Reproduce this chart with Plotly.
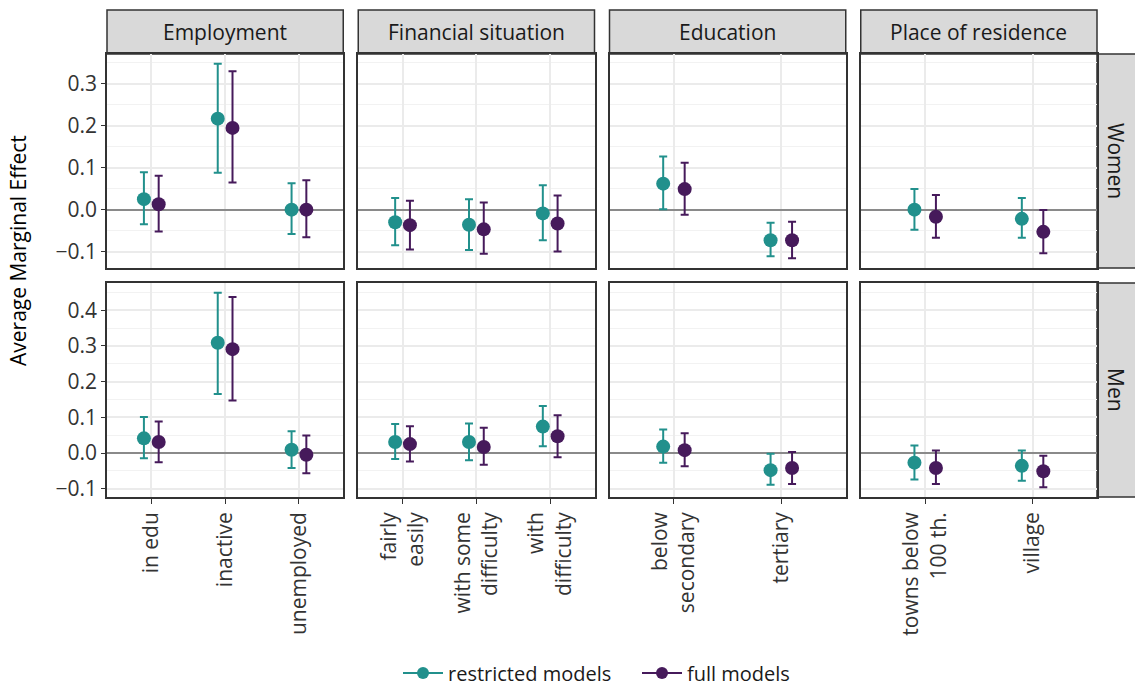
import plotly.graph_objects as go
from plotly.subplots import make_subplots

# Facet columns and the categories within each one
groups = ["Employment", "Financial situation", "Education", "Place of residence"]
categories = [
    ["in edu", "inactive", "unemployed"],
    ["fairly<br>easily", "with some<br>difficulty", "with<br>difficulty"],
    ["below<br>secondary", "tertiary"],
    ["towns below<br>100 th.", "village"],
]
sexes = ["Women", "Men"]
models = ["restricted models", "full models"]

# Average marginal effects with confidence bounds, categories flattened in column order
women_restricted_est = [0.025, 0.217, 0.000, -0.030, -0.036, -0.009, 0.062, -0.073, 0.000, -0.022]
women_restricted_lo = [-0.035, 0.088, -0.058, -0.085, -0.096, -0.073, 0.001, -0.111, -0.048, -0.067]
women_restricted_hi = [0.089, 0.348, 0.063, 0.028, 0.025, 0.058, 0.127, -0.031, 0.049, 0.028]

women_full_est = [0.013, 0.195, 0.000, -0.037, -0.047, -0.033, 0.049, -0.073, -0.017, -0.053]
women_full_lo = [-0.052, 0.065, -0.066, -0.095, -0.105, -0.100, -0.012, -0.116, -0.067, -0.104]
women_full_hi = [0.081, 0.330, 0.070, 0.021, 0.017, 0.034, 0.112, -0.029, 0.035, -0.001]

men_restricted_est = [0.041, 0.309, 0.009, 0.031, 0.031, 0.074, 0.018, -0.048, -0.027, -0.036]
men_restricted_lo = [-0.015, 0.165, -0.042, -0.017, -0.020, 0.019, -0.027, -0.089, -0.074, -0.078]
men_restricted_hi = [0.101, 0.449, 0.061, 0.081, 0.083, 0.132, 0.066, -0.002, 0.021, 0.007]

men_full_est = [0.031, 0.291, -0.005, 0.025, 0.017, 0.047, 0.008, -0.042, -0.042, -0.051]
men_full_lo = [-0.026, 0.147, -0.057, -0.024, -0.033, -0.012, -0.037, -0.087, -0.087, -0.096]
men_full_hi = [0.088, 0.437, 0.049, 0.075, 0.071, 0.106, 0.055, 0.003, 0.007, -0.008]

series = {
    ("Women", "restricted models"): (women_restricted_est, women_restricted_lo, women_restricted_hi),
    ("Women", "full models"): (women_full_est, women_full_lo, women_full_hi),
    ("Men", "restricted models"): (men_restricted_est, men_restricted_lo, men_restricted_hi),
    ("Men", "full models"): (men_full_est, men_full_lo, men_full_hi),
}

colors = {"restricted models": "#21908C", "full models": "#461A5B"}
dodge = {"restricted models": -0.1, "full models": 0.1}

FONT = "Open Sans"
TEXT = "#333333"
TICK_SIZE = 21
STRIP_SIZE = 21
W, H = 1135, 687
ML, MR, MT, MB = 107, 38, 54, 190
PW = W - ML - MR
PH = H - MT - MB
GAP = 15

fig = make_subplots(
    rows=2, cols=4, shared_xaxes=True, shared_yaxes=True,
    horizontal_spacing=GAP / PW, vertical_spacing=GAP / PH,
)

for r, sex in enumerate(sexes, start=1):
    for model in models:
        est, lo, hi = series[(sex, model)]
        start = 0
        for c, cats in enumerate(categories, start=1):
            n = len(cats)
            e = est[start:start + n]
            l = lo[start:start + n]
            h = hi[start:start + n]
            start += n
            fig.add_trace(
                go.Scatter(
                    x=[i + 1 + dodge[model] for i in range(n)],
                    y=e,
                    mode="markers",
                    marker=dict(size=14, color=colors[model]),
                    error_y=dict(
                        type="data", symmetric=False,
                        array=[hv - ev for hv, ev in zip(h, e)],
                        arrayminus=[ev - lv for ev, lv in zip(e, l)],
                        color=colors[model], thickness=2, width=4,
                    ),
                    showlegend=False, hoverinfo="skip",
                ),
                row=r, col=c,
            )

# Legend entries
for model in models:
    fig.add_trace(go.Scatter(
        x=[None], y=[None], mode="lines+markers", name=model,
        line=dict(color=colors[model], width=2),
        marker=dict(size=12, color=colors[model]),
    ), row=1, col=1)

# Axes: free y per row (5% padding), discrete x per column
for r, sex in enumerate(sexes, start=1):
    vals = []
    for model in models:
        est, lo, hi = series[(sex, model)]
        vals += lo + hi
    lo_v, hi_v = min(vals), max(vals)
    pad = (hi_v - lo_v) * 0.05
    for c in range(1, 5):
        fig.update_yaxes(
            range=[lo_v - pad, hi_v + pad], dtick=0.1, tick0=0, tickformat=".1f",
            showgrid=True, gridcolor="#EBEBEB", gridwidth=2,
            minor=dict(dtick=0.05, tick0=0, showgrid=True, gridcolor="#F2F2F2", gridwidth=1),
            zeroline=True, zerolinecolor="#8A8A8A", zerolinewidth=2,
            showline=True, mirror=True, linecolor="#333333", linewidth=1.5,
            ticks="outside" if c == 1 else "", ticklen=4, tickcolor="#333333",
            tickfont=dict(family=FONT, size=TICK_SIZE, color=TEXT),
            automargin=False,
            row=r, col=c,
        )

for c, cats in enumerate(categories, start=1):
    n = len(cats)
    for r in (1, 2):
        fig.update_xaxes(
            range=[0.4, n + 0.6], tickvals=list(range(1, n + 1)), ticktext=cats,
            tickangle=-90, showgrid=True, gridcolor="#EBEBEB", gridwidth=2,
            zeroline=False, showline=True, mirror=True, linecolor="#333333", linewidth=1.5,
            ticks="outside" if r == 2 else "", ticklen=5, tickcolor="#333333",
            tickfont=dict(family=FONT, size=TICK_SIZE, color=TEXT),
            automargin=False,
            row=r, col=c,
        )

# Facet strips
shapes = []
annotations = []
col_w = (PW - 3 * GAP) / 4
row_h = (PH - GAP) / 2
strip_top = 1 + 44 / PH
for c, g in enumerate(groups):
    x0 = c * (col_w + GAP) / PW
    x1 = x0 + col_w / PW
    shapes.append(dict(type="rect", xref="paper", yref="paper", x0=x0, x1=x1, y0=1, y1=strip_top,
                       fillcolor="#D9D9D9", line=dict(color="#333333", width=1.5), layer="below"))
    annotations.append(dict(xref="paper", yref="paper", x=(x0 + x1) / 2, y=(1 + strip_top) / 2,
                            text=g, showarrow=False, font=dict(family=FONT, size=STRIP_SIZE, color="#1A1A1A"),
                            xanchor="center", yanchor="middle"))
strip_right = 1 + MR / PW
for r, sex in enumerate(sexes):
    y1 = 1 - r * (row_h + GAP) / PH
    y0 = y1 - row_h / PH
    shapes.append(dict(type="rect", xref="paper", yref="paper", x0=1, x1=strip_right + 0.01, y0=y0, y1=y1,
                       fillcolor="#D9D9D9", line=dict(color="#333333", width=1.5), layer="below"))
    annotations.append(dict(xref="paper", yref="paper", x=(1 + strip_right) / 2, y=(y0 + y1) / 2,
                            text=sex, textangle=90, showarrow=False,
                            font=dict(family=FONT, size=STRIP_SIZE, color="#1A1A1A"),
                            xanchor="center", yanchor="middle"))

annotations.append(dict(xref="paper", yref="paper", x=(18 - ML) / PW, y=(MT + PH - 251) / PH,
                        text="Average Marginal Effect", textangle=-90, showarrow=False,
                        font=dict(family=FONT, size=STRIP_SIZE, color="#000000"),
                        xanchor="center", yanchor="middle"))

fig.update_layout(
    width=W, height=H,
    margin=dict(l=ML, r=MR, t=MT, b=MB, autoexpand=False),
    paper_bgcolor="white", plot_bgcolor="white",
    shapes=shapes, annotations=annotations,
    legend=dict(orientation="h", x=(398 - ML) / PW, xanchor="left", y=(MB - (H - 673)) / -PH,
                yanchor="middle", font=dict(family=FONT, size=20, color="#1A1A1A"),
                itemwidth=40, entrywidth=184, bgcolor="rgba(0,0,0,0)"),
    font=dict(family=FONT),
)

fig.write_html("out.html")
